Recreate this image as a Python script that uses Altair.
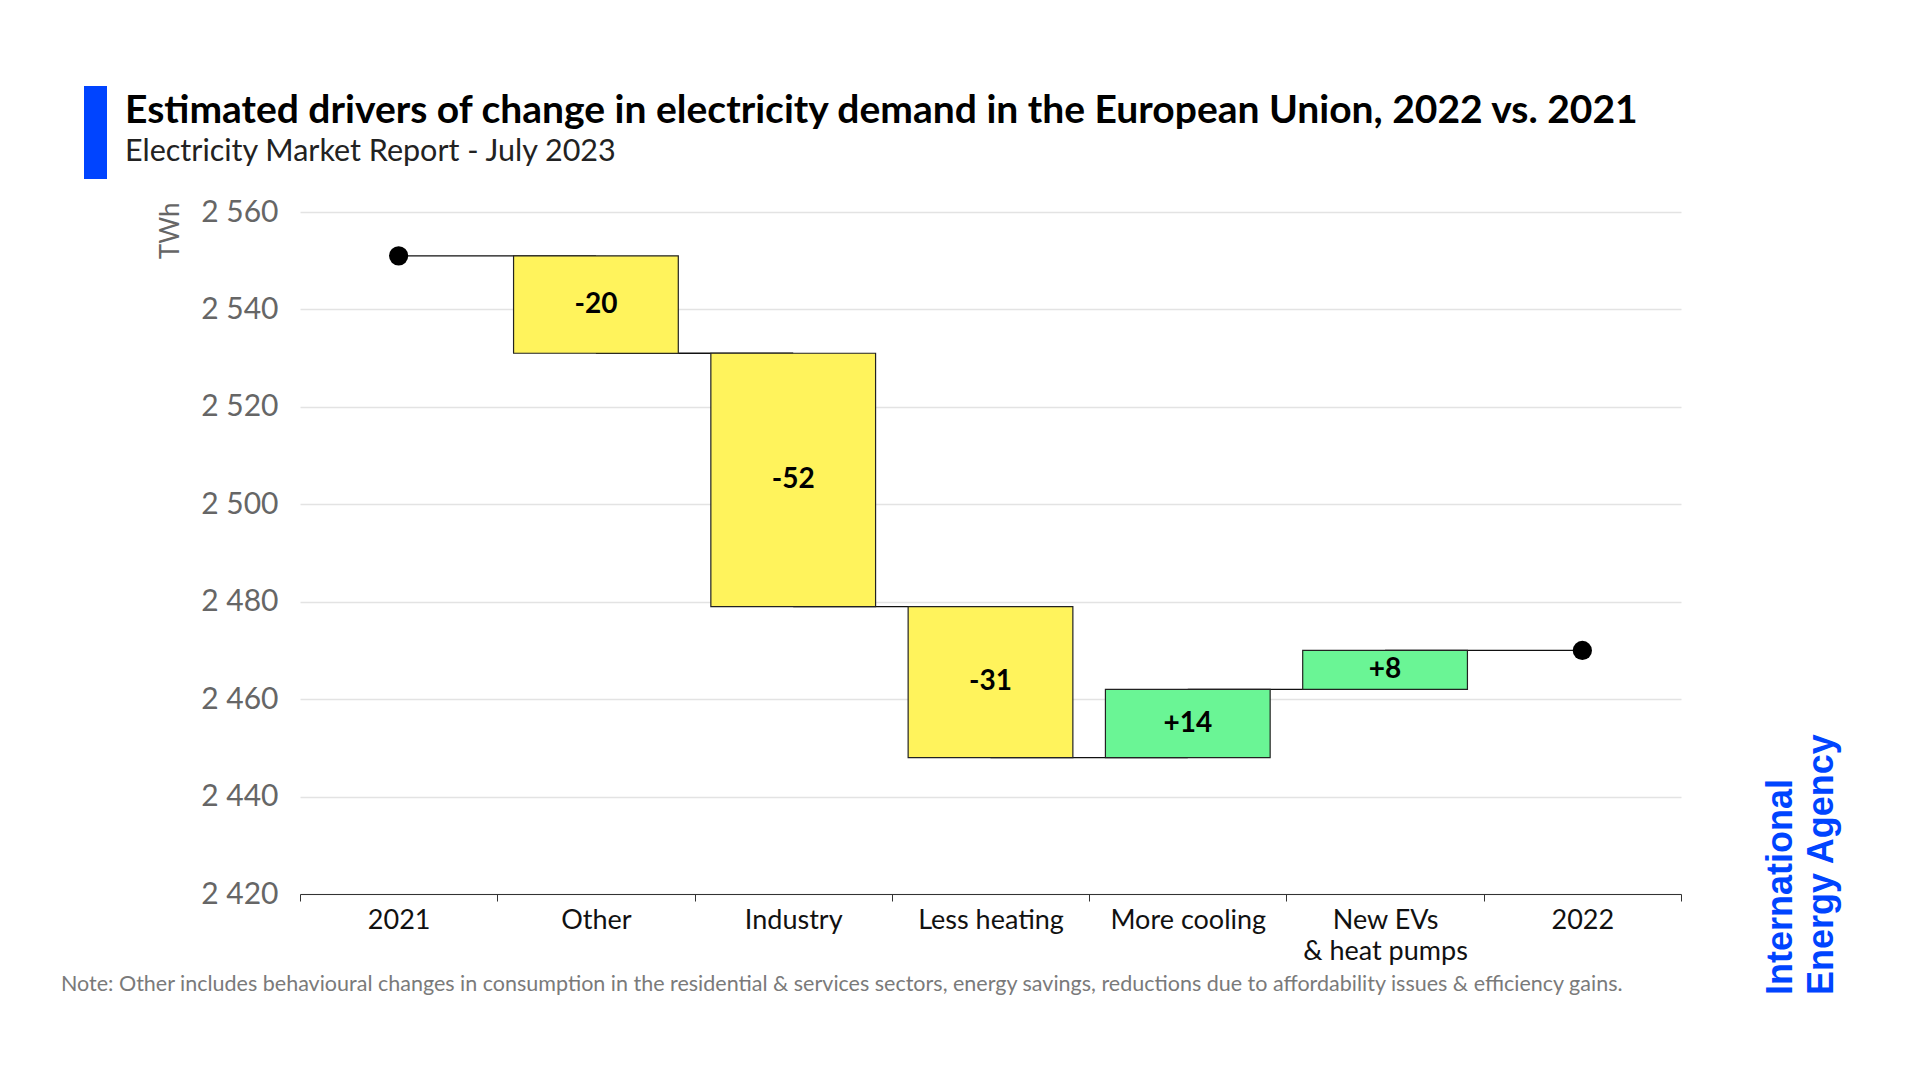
import altair as alt
import pandas as pd

categories = ["2021", "Other", "Industry", "Less heating", "More cooling",
              "New EVs & heat pumps", "2022"]
start_total = 2551
end_total = 2470
changes = [-20, -52, -31, 14, 8]  # for Other .. New EVs & heat pumps
bar_labels = ["-20", "-52", "-31", "+14", "+8"]
y_ticks = [2420, 2440, 2460, 2480, 2500, 2520, 2540, 2560]

title_text = "Estimated drivers of change in electricity demand in the European Union, 2022 vs. 2021"
subtitle_text = "Electricity Market Report - July 2023"
note_text = ("Note: Other includes behavioural changes in consumption in the residential & services sectors, "
             "energy savings, reductions due to affordability issues & efficiency gains.")

# --- build tables from the arrays ---
rows = []
level = start_total
for cat, ch, lab in zip(categories[1:-1], changes, bar_labels):
    new = level + ch
    rows.append({"cat": cat, "y0": level, "y1": new, "label": lab,
                 "mid": (level + new) / 2, "kind": "neg" if ch < 0 else "pos"})
    level = new
bars = pd.DataFrame(rows)

levels = [start_total] + [r["y1"] for r in rows]
conn_rows = []
for i, lvl in enumerate(levels):
    conn_rows.append({"pair": i, "cat": categories[i], "lvl": lvl})
    conn_rows.append({"pair": i, "cat": categories[i + 1], "lvl": lvl})
conn = pd.DataFrame(conn_rows)
dots = pd.DataFrame({"cat": [categories[0], categories[-1]], "v": [start_total, end_total]})

FONT = "Lato"
xenc = alt.X("cat:N", sort=categories, title=None,
             scale=alt.Scale(domain=categories, paddingInner=0, paddingOuter=0),
             axis=alt.Axis(labelAngle=0, labelFontSize=27, labelColor="#111", labelFont=FONT,
                           labelPadding=6, tickBand="extent", tickSize=7, tickColor="#333",
                           domainColor="#333", domainWidth=1.2, grid=False, labelLineHeight=31,
                           labelExpr="datum.value == 'New EVs & heat pumps' ? ['New EVs', '& heat pumps'] : datum.value"))
yscale = alt.Scale(domain=[2420, 2560], nice=False, zero=False)
yaxis = alt.Axis(values=y_ticks, domain=False, ticks=False, labelPadding=22, labelFontSize=30,
                 labelColor="#666", labelFont=FONT, gridColor="#e3e3e3", gridWidth=1.5,
                 labelExpr="replace(format(datum.value, ','), ',', ' ')",
                 title="TWh", titleFont=FONT, titleFontSize=26, titleFontWeight="normal",
                 titleColor="#666", titleAngle=270, titleAlign="right", titleX=-122, titleY=-10,
                 titleBaseline="alphabetic")

rules = alt.Chart(conn).mark_line(color="#111", strokeWidth=1.3).encode(
    x=xenc, y=alt.Y("lvl:Q", scale=yscale, axis=yaxis), detail="pair:N")

bar = alt.Chart(bars).mark_bar(width={"band": 0.835}, stroke="#222", strokeWidth=1.2).encode(
    x=xenc, y=alt.Y("y0:Q", scale=yscale), y2="y1:Q",
    color=alt.Color("kind:N", scale=alt.Scale(domain=["neg", "pos"], range=["#FFF35C", "#6AF595"]),
                    legend=None))

txt = alt.Chart(bars).mark_text(font=FONT, fontWeight="bold", fontSize=28, color="#000").encode(
    x=xenc, y=alt.Y("mid:Q", scale=yscale), text="label:N")

pts = alt.Chart(dots).mark_circle(size=370, color="#000", opacity=1).encode(
    x=xenc, y=alt.Y("v:Q", scale=yscale))

title = alt.Chart(pd.DataFrame({"t": [title_text]})).mark_text(
    font=FONT, fontWeight="bold", fontSize=39, color="#000", align="left", baseline="alphabetic").encode(
    x=alt.value(-175), y=alt.value(-89), text="t:N")
subtitle = alt.Chart(pd.DataFrame({"t": [subtitle_text]})).mark_text(
    font=FONT, fontSize=30.5, color="#222", align="left", baseline="alphabetic").encode(
    x=alt.value(-175), y=alt.value(-51), text="t:N")
bluebar = alt.Chart(pd.DataFrame({"t": [1]})).mark_rect(color="#0044FF").encode(
    x=alt.value(-216), x2=alt.value(-193), y=alt.value(-126), y2=alt.value(-33))
note = alt.Chart(pd.DataFrame({"t": [note_text]})).mark_text(
    font=FONT, fontSize=21.5, color="#7a7a7a", align="left", baseline="alphabetic").encode(
    x=alt.value(-239), y=alt.value(779), text="t:N")
logo = alt.Chart(pd.DataFrame({"t": ["International", "Energy Agency"], "xx": [1492, 1533]})).mark_text(
    font="Liberation Sans", fontWeight="bold", fontSize=36, color="#0044FF", angle=270,
    align="left", baseline="alphabetic").encode(
    x=alt.X("xx:Q", scale=None), y=alt.value(783), text="t:N")

chart = alt.layer(rules, bar, txt, pts, title, subtitle, bluebar, note, logo).properties(
    width=1381, height=682,
    autosize=alt.AutoSizeParams(type="none"),
    padding={"left": 292, "top": 204, "right": 200, "bottom": 150},
    background="white",
).configure_view(strokeWidth=0)

chart.save("out.html", embed_options={"renderer": "svg", "actions": False})
